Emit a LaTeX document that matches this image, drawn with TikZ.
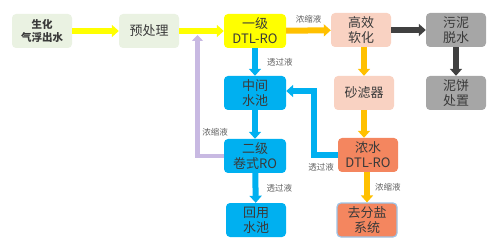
\documentclass[tikz,border=0pt]{standalone}
\usepackage{fontspec}
\setmainfont{Noto Sans CJK SC}
\usepackage{xcolor}
\usetikzlibrary{arrows.meta,calc}
\definecolor{srcgreen}{HTML}{EAF2E2}
\definecolor{royellow}{HTML}{FFFF00}
\definecolor{flowyellow}{HTML}{FFFF00}
\definecolor{flowgold}{HTML}{FFC000}
\definecolor{softpink}{HTML}{F9D2C2}
\definecolor{sludgegray}{HTML}{A6A6A6}
\definecolor{poolblue}{HTML}{00B0F0}
\definecolor{concoral}{HTML}{F4865F}
\definecolor{recycle}{HTML}{C8B9E2}
\definecolor{darkflow}{HTML}{404040}
\definecolor{txtgray}{HTML}{3A3A3A}
\definecolor{lblgray}{HTML}{606060}
\definecolor{rimblue}{HTML}{9DC3E6}

\begin{document}
\begin{tikzpicture}[x=1pt,y=-1pt,
  box/.style={rounded corners=4pt, minimum width=60pt, minimum height=34pt,
    inner sep=1pt, align=center, text=txtgray, font=\fontsize{13}{15}\selectfont},
  lbl/.style={text=lblgray, font=\fontsize{8.5}{9}\selectfont, inner sep=2pt},
  flow/.style={line width=6pt, -{Triangle[length=7pt,width=12pt]}}]
  \useasboundingbox (0,0) rectangle (500,248);
  % boxes
  \node[box, fill=srcgreen, font=\fontsize{10.5}{13}\selectfont\bfseries] (src) at (42,31) {生化\\气浮出水};
  \node[box, fill=srcgreen] (pre) at (149,31) {预处理};
  \node[box, fill=royellow, minimum width=62pt] (ro1) at (255,31) {一级\\DTL-RO};
  \node[box, fill=softpink] (soft) at (361,30) {高效\\软化};
  \node[box, fill=sludgegray] (sludge) at (456,30) {污泥\\脱水};
  \node[box, fill=sludgegray] (cake) at (456,93) {泥饼\\处置};
  \node[box, fill=softpink] (sand) at (364,93) {砂滤器};
  \node[box, fill=poolblue, minimum width=62pt] (mid) at (255,93) {中间\\水池};
  \node[box, fill=poolblue, minimum width=62pt] (ro2) at (255,156) {二级\\卷式RO};
  \node[box, fill=poolblue] (reuse) at (256,220) {回用\\水池};
  \node[box, fill=concoral] (conc) at (368,155) {浓水\\DTL-RO};
  \node[box, fill=concoral, draw=rimblue, line width=1.2pt] (desalt) at (367,220) {去分盐\\系统};
  \coordinate (join) at ($(pre.east)!0.41!(ro1.west)$);
  % yellow main line
  \draw[flow, flowyellow] (src) -- (pre);
  \draw[flow, flowyellow] (pre) -- (ro1);
  % concentrate side
  \draw[flow, flowgold] (ro1) -- node[lbl, above=2pt] {浓缩液} (soft);
  \draw[flow, flowgold] (soft.south -| sand.north) -- (sand.north);
  \draw[flow, flowgold] (sand.south) -- (sand.south |- conc.north);
  \draw[flow, flowgold] (conc.south -| desalt.north) -- node[lbl, right=3pt] {浓缩液} (desalt.north);
  \draw[flow, darkflow] (soft) -- (sludge);
  \draw[flow, darkflow] (sludge) -- (cake);
  % permeate side
  \draw[flow, poolblue] (ro1) -- node[lbl, right=7pt] {透过液} (mid);
  \draw[flow, poolblue] (mid) -- (ro2);
  \draw[flow, poolblue] (ro2) -- node[lbl, right=6pt] {透过液} (reuse);
  \draw[flow, poolblue] (conc.west) -- node[lbl, below=3pt, pos=0.7] {透过液} ++(-24,0) |- ([yshift=2pt]mid.east);
  % recycle back to pretreatment
  \draw[line width=4.5pt, recycle, -{Triangle[length=6pt,width=11pt]}]
    (ro2.west) -| ([yshift=-4pt]join);
  \node[lbl] (recyclelbl) at (215,132) {浓缩液};
\end{tikzpicture}
\end{document}
